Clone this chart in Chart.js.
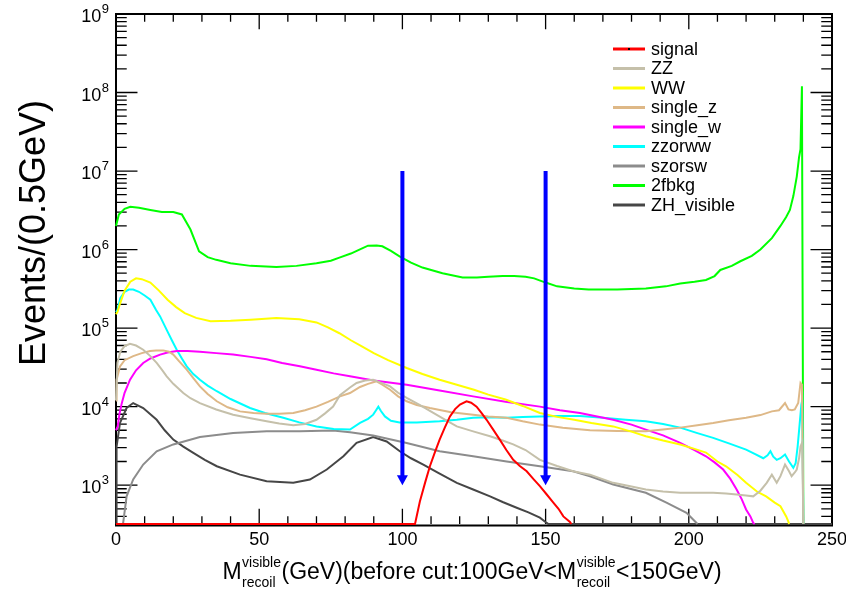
<!DOCTYPE html>
<html><head><meta charset="utf-8">
<script src="https://cdn.jsdelivr.net/npm/chart.js@4/dist/chart.umd.min.js"></script>
<style>html,body{margin:0;padding:0;background:#fff;}canvas{display:block;}</style>
</head><body>
<canvas id="c" width="846" height="590"></canvas>
<script>
// ---------------- data (GeV, events / 0.5 GeV) ----------------
const seriesNames = ['signal','ZZ','WW','single_z','single_w','zzorww','szorsw','2fbkg','ZH_visible'];
const seriesColors = ['#ff0000','#c5c0aa','#ffff00','#deb887','#ff00ff','#00ffff','#8c8c8c','#00ff00','#464646'];

const signalX = [0,104.4,106.1,108,109.6,111.3,113,114.8,116.6,118.4,120.1,122.4,124,125.9,127.6,129.4,131.7,134,136.3,138.7,141,143.4,145.7,148,150.4,152.7,154.5,156.2,158.5,159];
const signalY = [0,0,620,1100,1740,2600,3800,5400,7500,9300,10600,11700,11200,10000,8300,6800,5100,3800,2800,2100,1750,1500,1200,970,760,600,500,400,340,0];

const zzX = [0,0.5,1.5,3,4.9,7,9.5,12,14.2,16,17.7,20,23.5,26,29.3,35,40.9,47,52.6,57,61.9,66,70,73,75.8,78.2,81.7,84,87,89.8,92,95.7,98.5,101.5,106,110.8,115,119,125,130.6,135,138.7,143,148,154,159.6,165.5,173.6,180,185,191,197,203,208.5,213,216.7,220,222.5,225,227.2,229,230.7,232,233.6,235,235.9,237,237.7,238.5,239,239.6,240];
const zzY = [12000,36000,50000,59000,63000,60000,53000,44000,36000,29500,24300,19500,14900,12800,11100,9200,7900,7100,6500,6100,5800,6000,6800,8200,10000,14000,17500,20000,21500,22000,20500,18100,15000,12900,10500,8300,6800,5600,4800,4200,3700,3300,2800,2100,1750,1500,1360,1070,960,880,830,800,800,800,780,760,740,720,850,1070,1360,1070,1300,1830,1500,1300,1450,1580,2200,3100,3500,0];

const wwX = [0,0.5,1.5,3,5,7,9,12,15,18,21,24,28,33,40,47,56,64,70,74,78,82,86,90,95,101.5,107,113,119,125,130,136,142,148,154,160,166,173.6,180,185,191,197,202,206,210,213,217,220,224,227,230,232,234,234.8,235];
const wwY = [150000,160000,210000,300000,390000,430000,420000,380000,300000,230000,185000,155000,135000,122000,124000,128000,134000,130000,118000,102000,86000,70000,58000,48000,39000,31000,26000,22000,19000,16400,14200,12300,10200,8300,7400,6800,6200,5600,4800,4200,3700,3300,2900,2600,2000,1740,1350,1070,820,720,600,540,400,340,0];

const singleZX = [0,0.2,1.4,3,6,9,11.9,14,16.5,18.5,20,22,24.7,27,29.3,32,35.2,39,43.3,48,52.6,57,61.9,66,70,74,78.2,81.7,85.2,88,91,93,95.7,98.5,101.5,105,109.6,117,124.7,130,136.4,142,148,156,165.5,175,185,191,197,203,208.5,214,220,225,229,231.5,233.6,234.8,236,237,238.2,239,239.5,240];
const singleZY = [12000,22000,32600,39000,44000,48000,51000,52000,52000,50000,46000,38000,29600,23000,18100,14500,11700,9800,8700,8300,8100,8100,8300,9000,10000,11500,13500,14900,17800,19500,21000,19000,16400,13500,11700,10500,9600,8500,7900,7500,7200,6500,5900,5400,5000,4900,4850,5100,5400,5800,6200,6700,7200,7800,8700,9000,11100,9200,9000,9200,11100,20000,19000,0];

const singleWX = [0,0.6,1.2,2,3,4.9,7,9.5,12,15.4,18,21.2,25,29.3,35,40.9,47,52.6,58,64.2,70,76,81.7,90,101.5,113,124.7,136,148,155,162,168,173.6,180,185,191,197,202,206,209,212,214.5,216.7,218.5,220,221.5,222.5,223];
const singleWY = [5000,5600,8000,11000,15000,22000,29000,36000,41000,46000,49000,51000,51000,50000,48000,46000,43000,40000,36000,32600,29500,26500,24300,21500,19000,16000,13500,11500,10000,9000,8300,7500,6800,5900,5100,4300,3450,2800,2330,1950,1580,1200,880,660,490,400,330,0];

const zzorwwX = [0,0.5,1.5,3,4.5,6,8,10,12,14,15.4,17.7,19.5,21.2,23,24.7,27,29.3,32,35.2,40,46.8,52,58.4,64,70,76,81.7,85.2,88,89.8,90.8,91.6,92.5,93.9,96,99,105,113,119,124.7,130,136.4,142,148,155,162,170,178,185,191,197,203,208.5,214,220,223,226,227.5,228.5,229.5,230.7,232,233.6,235,236.5,237.3,238,238.7,239.3,239.6,240];
const zzorwwY = [160000,170000,240000,290000,310000,310000,290000,260000,230000,170000,141000,95000,70000,53000,41000,32600,26000,22000,18500,15700,12500,9600,8300,7200,6300,5600,5200,5100,6200,7000,7900,9000,10000,8800,7500,6600,6300,6300,6500,6800,7200,7300,7200,7400,7500,7600,7600,7200,6800,6500,6000,5400,4600,4000,3400,2840,2500,2200,2400,2700,2300,2100,2200,2450,2000,1660,1900,3100,6000,10600,12000,0];

const szorswX = [0,2.3,2.5,3.7,6,9.5,14.2,20,29.3,40.9,52.6,64.2,75.8,81.7,89.8,101.5,113,124.7,136.4,148,159.6,165.5,173.6,185,192.2,199.2,202.7,203];
const szorswY = [0,0,330,720,1180,1830,2700,3300,4100,4600,4850,4850,4950,4700,4300,3450,2700,2330,2000,1740,1500,1300,1020,800,600,445,330,0];

const bkg2fX = [0,1,3,5,8,12,16,20,23,26,29,32,35,40,47,56,63,70,75,78,82,85,88,91,93,96,99,103,107,114,121,126,130,135,139,143,146,150,154,160,165,175,185,192,197,202,206,209,211,215,218,222,225,229,232,234,235.3,236.5,237.7,238.5,239,239.5,240];
const bkg2fY = [2000000,2800000,3300000,3500000,3400000,3200000,3000000,3000000,2800000,1800000,950000,800000,740000,670000,620000,600000,620000,670000,720000,790000,890000,1000000,1120000,1130000,1100000,960000,820000,680000,590000,500000,440000,440000,450000,460000,460000,450000,430000,380000,340000,320000,310000,310000,320000,340000,370000,390000,410000,460000,550000,620000,710000,830000,1000000,1400000,2000000,2600000,3200000,4800000,8500000,15000000,19000000,120000000,0];

const zhX = [0,0.2,1.4,3.7,6,9.5,14.2,17,20,23.5,27,31,35.2,43.3,52.6,61.9,67.7,73.6,79.4,84,89.8,94.5,99.1,103,107.3,113,119,124.7,130.6,135,139.9,144,148,150.4,151,250];
const zhY = [0,3100,6200,9600,11100,9600,6800,5000,3800,3100,2580,2100,1740,1360,1120,1070,1180,1580,2330,3450,4100,3600,2700,2200,1830,1400,1070,880,720,610,515,450,385,330,0,0];

const seriesX = [signalX, zzX, wwX, singleZX, singleWX, zzorwwX, szorswX, bkg2fX, zhX];
const seriesY = [signalY, zzY, wwY, singleZY, singleWY, zzorwwY, szorswY, bkg2fY, zhY];

// axes
const xMin = 0, xMax = 250;
const yMin = 320, yMax = 1e9;
const xMajorTicks = [0,50,100,150,200,250];
const xTickLabels = ['0','50','100','150','200','250'];
const yMajorTicks = [1e3,1e4,1e5,1e6,1e7,1e8,1e9];
const yTickExponents = ['3','4','5','6','7','8','9'];
// cut arrows
const cutValues = [100,150];
const arrowFrom = 1e7, arrowTo = 1e3;

// ---------------- chart ----------------
const FONT = '"Liberation Sans", Arial, Helvetica, sans-serif';

const datasets = seriesNames.map((name, i) => ({
  label: name,
  data: seriesX[i].map((x, j) => ({ x: x, y: seriesY[i][j] > 0 ? seriesY[i][j] : yMin })), // empty bins sit on the frame floor, as in ROOT
  borderColor: seriesColors[i],
  backgroundColor: seriesColors[i],
  borderWidth: 2,
  pointRadius: 0,
  fill: false,
  tension: 0,
  clip: 3
}));

const rootStyle = {
  id: 'rootStyle',
  beforeDatasetsDraw(chart) {
    const { ctx, chartArea: a, scales: { x, y } } = chart;
    ctx.save();
    ctx.strokeStyle = '#000';
    ctx.lineWidth = 1.3;
    const xl = 0.03 * a.height, yl = 0.03 * a.width;
    for (let v = xMin; v <= xMax + 1e-9; v += 10) {
      const px = x.getPixelForValue(v);
      const len = (v % 50 === 0) ? xl : xl / 2;
      ctx.beginPath();
      ctx.moveTo(px, a.bottom); ctx.lineTo(px, a.bottom - len);
      ctx.moveTo(px, a.top); ctx.lineTo(px, a.top + len);
      ctx.stroke();
    }
    for (let e = 2; e <= 9; e++) {
      for (let m = 1; m <= 9; m++) {
        const v = m * Math.pow(10, e);
        if (v < yMin || v > yMax) continue;
        const py = y.getPixelForValue(v);
        const len = (m === 1) ? yl : yl / 2;
        ctx.beginPath();
        ctx.moveTo(a.left, py); ctx.lineTo(a.left + len, py);
        ctx.moveTo(a.right, py); ctx.lineTo(a.right - len, py);
        ctx.stroke();
      }
    }
    ctx.lineWidth = 2;
    ctx.strokeRect(a.left, a.top, a.right - a.left, a.bottom - a.top + 1.5);
    ctx.restore();
  },
  afterDatasetsDraw(chart) {
    const { ctx, chartArea: a, scales: { x, y } } = chart;
    ctx.save();
    ctx.strokeStyle = '#0000ff';
    ctx.fillStyle = '#0000ff';
    cutValues.forEach(c => {
      const px = x.getPixelForValue(c);
      const y0 = y.getPixelForValue(arrowFrom), y1 = y.getPixelForValue(arrowTo);
      ctx.lineWidth = 4;
      ctx.beginPath(); ctx.moveTo(px, y0); ctx.lineTo(px, y1 - 8); ctx.stroke();
      ctx.beginPath(); ctx.moveTo(px - 5.5, y1 - 10); ctx.lineTo(px + 5.5, y1 - 10); ctx.lineTo(px, y1); ctx.closePath(); ctx.fill();
    });

    ctx.fillStyle = '#000';
    ctx.font = '18px ' + FONT;
    ctx.textAlign = 'center';
    ctx.textBaseline = 'alphabetic';
    xMajorTicks.forEach((v, i) => {
      ctx.fillText(xTickLabels[i], x.getPixelForValue(v), 545);
    });
    yMajorTicks.forEach((v, i) => {
      const py = y.getPixelForValue(v);
      ctx.font = '13px ' + FONT;
      const ew = ctx.measureText(yTickExponents[i]).width;
      ctx.textAlign = 'left';
      const right = 109;
      ctx.fillText(yTickExponents[i], right - ew, py - 1);
      ctx.font = '18px ' + FONT;
      ctx.textAlign = 'right';
      ctx.fillText('10', right - ew - 0.5, py + 8);
    });

    ctx.save();
    ctx.translate(45, 233);
    ctx.rotate(-Math.PI / 2);
    ctx.font = '36px ' + FONT;
    ctx.textAlign = 'center';
    ctx.textBaseline = 'alphabetic';
    ctx.fillText('Events/(0.5GeV)', 0, 0);
    ctx.restore();

    const big = '23px ' + FONT, small = '14px ' + FONT;
    const parts = [
      { t: 'M' }, { sup: 'visible', sub: 'recoil' },
      { t: '(GeV)(before cut:100GeV<M' }, { sup: 'visible', sub: 'recoil' },
      { t: '<150GeV)' }
    ];
    let total = 0;
    parts.forEach(p => {
      if (p.t) { ctx.font = big; p.w = ctx.measureText(p.t).width; }
      else { ctx.font = small; p.w = Math.max(ctx.measureText(p.sup).width, ctx.measureText(p.sub).width) + 1; }
      total += p.w;
    });
    let cx = 472 - total / 2;
    ctx.textAlign = 'left';
    parts.forEach(p => {
      if (p.t) { ctx.font = big; ctx.fillText(p.t, cx, 579); }
      else { ctx.font = small; ctx.fillText(p.sup, cx + 0.5, 567); ctx.fillText(p.sub, cx + 0.5, 587); }
      cx += p.w;
    });

    ctx.font = '18px ' + FONT;
    ctx.textBaseline = 'middle';
    ctx.textAlign = 'left';
    chart.data.datasets.forEach((ds, i) => {
      const ly = 49 + i * 19.5;
      ctx.strokeStyle = ds.borderColor;
      ctx.lineWidth = 3;
      ctx.beginPath(); ctx.moveTo(613, ly); ctx.lineTo(645, ly); ctx.stroke();
      if (i === 0) { ctx.fillStyle = '#000'; ctx.fillRect(628, ly - 1, 2, 2); }
      ctx.fillStyle = '#000';
      ctx.fillText(ds.label, 651, ly + 1);
    });
    ctx.restore();
  }
};

new Chart(document.getElementById('c').getContext('2d'), {
  type: 'line',
  data: { datasets: datasets },
  options: {
    responsive: false,
    animation: false,
    layout: { padding: { left: 116, top: 14, right: 14, bottom: 66 } },
    plugins: { legend: { display: false }, tooltip: { enabled: false } },
    scales: {
      x: { type: 'linear', min: xMin, max: xMax, display: false },
      y: { type: 'logarithmic', min: yMin, max: yMax, display: false }
    }
  },
  plugins: [rootStyle]
});
</script>
</body></html>
